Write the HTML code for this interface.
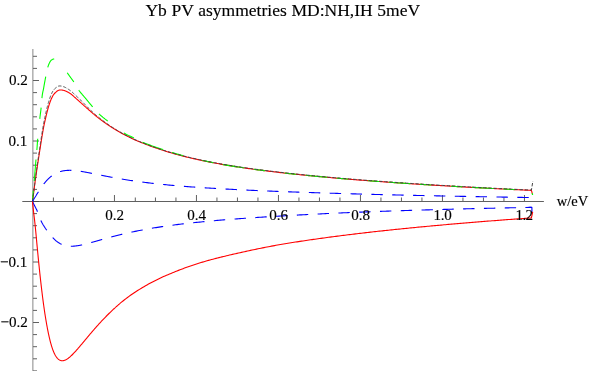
<!DOCTYPE html>
<html><head><meta charset="utf-8"><title>plot</title>
<style>html,body{margin:0;padding:0;background:#fff}body{width:589px;height:371px;overflow:hidden;font-family:"Liberation Serif",serif}</style></head>
<body>
<svg width="589" height="371" viewBox="0 0 589 371" style="display:block;will-change:transform">
<defs><mask id="tm" maskUnits="userSpaceOnUse" x="0" y="0" width="589" height="371"><rect width="589" height="371" fill="#fff"/></mask></defs>
<rect width="589" height="371" fill="#fff"/>
<path d="M32,49 V371" fill="none" stroke="#b4b4b4" stroke-width="1" transform="translate(0.5,0)"/>
<path d="M33,49 V371" fill="none" stroke="#d2d2d2" stroke-width="1" transform="translate(0.5,0)"/>
<path d="M22.3,201.50 H543.9 M53.40,201.50 v-4 M73.45,201.50 v-4 M94.40,201.50 v-4 M114.45,201.50 v-6.5 M135.30,201.50 v-4 M155.45,201.50 v-4 M175.95,201.50 v-4 M196.45,201.50 v-6.5 M216.95,201.50 v-4 M237.45,201.50 v-4 M257.95,201.50 v-4 M278.45,201.50 v-6.5 M298.95,201.50 v-4 M319.45,201.50 v-4 M339.95,201.50 v-4 M360.45,201.50 v-6.5 M380.95,201.50 v-4 M401.45,201.50 v-4 M421.95,201.50 v-4 M442.45,201.50 v-6.5 M462.95,201.50 v-4 M483.45,201.50 v-4 M503.95,201.50 v-4 M524.45,201.50 v-6.5 M33,370.90 h4 M33,358.80 h4 M33,346.70 h4 M33,334.60 h4 M33,322.50 h6 M33,310.40 h4 M33,298.30 h4 M33,286.20 h4 M33,274.10 h4 M33,262.00 h6 M33,249.90 h4 M33,237.80 h4 M33,225.70 h4 M33,213.60 h4 M33,189.40 h4 M33,177.30 h4 M33,165.20 h4 M33,153.10 h4 M33,141.00 h6 M33,128.90 h4 M33,116.80 h4 M33,104.70 h4 M33,92.60 h4 M33,80.50 h6 M33,68.40 h4 M33,56.30 h4" fill="none" stroke="#606060" stroke-width="1"/>
<path d="M33,201.50 h6 M32.95,201.50 v-6" fill="none" stroke="#303030" stroke-opacity="0.5" stroke-width="1"/>
<g fill="none" stroke-linejoin="round">
<path d="M32.45,201.50 L32.55,200.86 L32.65,200.22 L32.75,199.59 L32.85,198.95 L32.95,198.31 L33.05,197.62 L33.15,196.87 L33.25,196.10 L33.35,195.33 L33.45,194.55 L33.55,193.76 L33.65,192.97 L33.75,192.18 L33.85,191.39 L33.95,190.60 L34.05,189.81 L34.15,189.03 L34.25,188.25 L34.35,187.47 L34.45,186.70 L34.55,185.93 L34.65,185.17 L34.75,184.41 L34.85,183.66 L34.95,182.91 L35.05,182.17 L35.15,181.43 L35.25,180.70 L35.35,179.97 L35.45,179.25 L35.55,178.53 L35.65,177.82 L35.75,177.11 L35.85,176.40 L35.95,175.70 L36.05,175.00 L36.15,174.31 L36.25,173.62 L36.35,172.93 L36.45,172.25 L36.55,171.57 L36.65,170.89 L36.75,170.21 L36.85,169.54 L36.95,168.87 L37.05,168.21 L37.15,167.54 L37.25,166.88 L37.35,166.22 L37.45,165.56 L37.55,164.91 L37.65,164.25 L37.75,163.60 L37.85,162.95 L37.95,162.30 L38.05,161.65 L38.15,161.00 L38.25,160.36 L38.35,159.71 L38.45,159.07 L38.55,158.42 L38.65,157.78 L38.75,157.14 L38.85,156.49 L38.95,155.85 L39.05,155.21 L39.15,154.57 L39.25,153.93 L39.35,153.29 L39.45,152.65 L39.55,152.01 L39.65,151.37 L39.75,150.73 L39.85,150.09 L39.95,149.45 L40.05,148.81 L40.15,148.17 L40.25,147.52 L40.35,146.88 L40.45,146.24 L40.55,145.60 L40.65,144.96 L40.75,144.32 L40.85,143.68 L40.95,143.04 L41.05,142.40 L41.15,141.76 L41.25,141.13 L41.35,140.51 L41.45,139.88 L41.55,139.27 L41.65,138.65 L41.75,138.04 L41.85,137.44 L41.95,136.83 L42.05,136.24 L42.15,135.64 L42.25,135.05 L42.35,134.47 L42.45,133.89 L42.55,133.31 L42.65,132.73 L42.75,132.16 L42.85,131.60 L42.95,131.04 L43.05,130.48 L43.15,129.93 L43.25,129.37 L43.35,128.83 L43.45,128.29 L43.55,127.75 L43.65,127.21 L43.75,126.69 L43.85,126.18 L43.95,125.67 L44.05,125.18 L44.15,124.70 L44.25,124.23 L44.35,123.76 L44.45,123.30 L44.55,122.85 L44.65,122.40 L44.75,121.96 L44.85,121.52 L44.95,121.08 L45.05,120.65 L45.15,120.22 L45.25,119.78 L45.35,119.35 L45.45,118.92 L45.55,118.48 L45.65,118.04 L45.75,117.60 L45.85,117.15 L45.95,116.71 L46.05,116.28 L46.15,115.84 L46.25,115.42 L46.35,114.99 L46.45,114.58 L46.55,114.16 L46.65,113.75 L46.75,113.35 L46.85,112.95 L46.95,112.55 L47.05,112.16 L47.15,111.77 L47.25,111.38 L47.35,111.00 L47.45,110.62 L47.55,110.25 L47.65,109.88 L47.75,109.51 L47.85,109.15 L47.95,108.79 L48.05,108.43 L48.15,108.07 L48.25,107.72 L48.35,107.38 L48.45,107.03 L48.55,106.69 L48.65,106.36 L48.75,106.03 L48.85,105.70 L48.95,105.38 L49.05,105.06 L49.15,104.74 L49.25,104.43 L49.35,104.12 L49.45,103.82 L49.55,103.52 L49.65,103.22 L49.75,102.93 L49.85,102.65 L49.95,102.36 L50.00,102.22 L50.25,101.53 L50.50,100.87 L50.75,100.23 L51.00,99.62 L51.25,99.03 L51.50,98.46 L51.75,97.92 L52.00,97.40 L52.25,96.89 L52.50,96.39 L52.75,95.92 L53.00,95.47 L53.25,95.07 L53.50,94.71 L53.75,94.38 L54.00,94.07 L54.25,93.78 L54.50,93.50 L54.75,93.24 L55.00,93.00 L55.25,92.77 L55.50,92.56 L55.75,92.34 L56.00,92.11 L56.25,91.89 L56.50,91.66 L56.75,91.44 L57.00,91.23 L57.25,91.03 L57.50,90.84 L57.75,90.67 L58.00,90.53 L58.25,90.41 L58.50,90.31 L58.75,90.23 L59.00,90.17 L59.25,90.11 L59.50,90.07 L59.75,90.04 L60.00,90.01 L60.25,90.00 L60.50,89.99 L60.75,89.99 L61.00,89.99 L61.25,89.99 L61.50,90.01 L61.75,90.03 L62.00,90.05 L62.25,90.09 L62.50,90.13 L62.75,90.17 L63.00,90.22 L63.25,90.28 L63.50,90.34 L63.75,90.41 L64.00,90.48 L64.25,90.55 L64.50,90.63 L64.75,90.72 L65.00,90.81 L65.25,90.90 L65.50,91.00 L65.75,91.10 L66.00,91.20 L66.25,91.31 L66.50,91.43 L66.75,91.54 L67.00,91.66 L67.25,91.79 L67.50,91.92 L67.75,92.05 L68.00,92.19 L68.25,92.33 L68.50,92.48 L68.75,92.62 L69.00,92.77 L69.25,92.92 L69.50,93.07 L69.75,93.23 L70.00,93.38 L70.25,93.55 L70.50,93.72 L70.75,93.89 L71.00,94.07 L71.25,94.25 L71.50,94.44 L71.75,94.64 L72.00,94.85 L72.25,95.06 L72.50,95.27 L72.75,95.49 L73.00,95.72 L73.25,95.94 L73.50,96.17 L73.75,96.40 L74.00,96.63 L74.25,96.86 L74.50,97.08 L74.75,97.31 L75.00,97.53 L75.25,97.75 L75.50,97.97 L75.75,98.19 L76.00,98.41 L76.25,98.63 L76.50,98.86 L76.75,99.08 L77.00,99.30 L77.25,99.52 L77.50,99.75 L77.75,99.97 L78.00,100.19 L78.25,100.41 L78.50,100.64 L78.75,100.86 L79.00,101.09 L79.25,101.31 L79.50,101.53 L79.75,101.76 L80.00,101.98 L80.25,102.21 L80.50,102.43 L80.75,102.65 L81.00,102.88 L81.25,103.10 L81.50,103.33 L81.75,103.55 L82.00,103.77 L82.25,104.00 L82.50,104.22 L82.75,104.45 L83.00,104.67 L83.25,104.89 L83.50,105.12 L83.75,105.34 L84.00,105.57 L84.25,105.79 L84.50,106.01 L84.75,106.24 L85.00,106.46 L85.25,106.68 L85.50,106.91 L85.75,107.13 L86.00,107.36 L86.25,107.58 L86.50,107.80 L86.75,108.03 L87.00,108.25 L87.25,108.47 L87.50,108.70 L87.75,108.92 L88.00,109.14 L88.25,109.36 L88.50,109.59 L88.75,109.81 L89.00,110.03 L89.25,110.25 L89.50,110.47 L89.75,110.69 L90.00,110.91 L90.25,111.13 L90.50,111.35 L90.75,111.57 L91.00,111.79 L91.25,112.00 L91.50,112.22 L91.75,112.44 L92.00,112.65 L92.25,112.87 L92.50,113.08 L92.75,113.30 L93.00,113.51 L93.25,113.73 L93.50,113.94 L93.75,114.15 L94.00,114.36 L94.25,114.57 L94.50,114.78 L94.75,114.99 L95.00,115.20 L95.25,115.40 L95.50,115.61 L95.75,115.82 L96.00,116.02 L96.25,116.23 L96.50,116.43 L96.75,116.63 L97.00,116.83 L97.25,117.03 L97.50,117.23 L97.75,117.43 L98.00,117.63 L98.25,117.82 L98.50,118.02 L98.75,118.21 L99.00,118.41 L99.25,118.60 L99.50,118.79 L99.75,118.98 L100.00,119.17 L100.25,119.36 L100.50,119.55 L100.75,119.73 L101.00,119.92 L101.25,120.11 L101.50,120.29 L101.75,120.48 L102.00,120.66 L102.25,120.84 L102.50,121.03 L102.75,121.21 L103.00,121.39 L103.25,121.57 L103.50,121.75 L103.75,121.93 L104.00,122.11 L104.25,122.29 L104.50,122.46 L104.75,122.64 L105.00,122.82 L105.25,122.99 L105.50,123.17 L105.75,123.34 L106.00,123.52 L106.25,123.69 L106.50,123.86 L106.75,124.04 L107.00,124.21 L107.25,124.38 L107.50,124.55 L107.75,124.72 L108.00,124.89 L108.25,125.05 L108.50,125.22 L108.75,125.39 L109.00,125.56 L109.25,125.72 L109.50,125.89 L109.75,126.05 L110.00,126.22 L110.25,126.38 L110.50,126.54 L110.75,126.71 L111.00,126.87 L111.25,127.03 L111.50,127.19 L111.75,127.35 L112.00,127.51 L112.25,127.67 L112.50,127.83 L112.75,127.98 L113.00,128.14 L113.25,128.30 L113.50,128.45 L113.75,128.61 L114.00,128.76 L114.25,128.92 L114.50,129.07 L114.75,129.22 L115.00,129.38 L115.25,129.53 L115.50,129.68 L115.75,129.83 L116.00,129.98 L116.25,130.13 L116.50,130.28 L116.75,130.43 L117.00,130.58 L117.25,130.73 L117.50,130.87 L117.75,131.02 L118.00,131.16 L118.25,131.31 L118.50,131.46 L118.75,131.60 L119.00,131.74 L119.25,131.89 L119.50,132.03 L119.75,132.17 L120.00,132.31 L121.50,133.15 L123.00,133.98 L124.50,134.78 L126.00,135.57 L127.50,136.34 L129.00,137.09 L130.50,137.83 L132.00,138.54 L133.50,139.23 L135.00,139.90 L136.50,140.55 L138.00,141.19 L139.50,141.80 L141.00,142.41 L142.50,143.00 L144.00,143.59 L145.50,144.16 L147.00,144.73 L148.50,145.30 L150.00,145.86 L151.50,146.42 L153.00,146.97 L154.50,147.51 L156.00,148.03 L157.50,148.55 L159.00,149.06 L160.50,149.56 L162.00,150.05 L163.50,150.53 L165.00,151.00 L166.50,151.47 L168.00,151.93 L169.50,152.38 L171.00,152.82 L172.50,153.25 L174.00,153.68 L175.50,154.10 L177.00,154.51 L178.50,154.92 L180.00,155.32 L181.50,155.71 L183.00,156.10 L184.50,156.48 L186.00,156.85 L187.50,157.22 L189.00,157.59 L190.50,157.94 L192.00,158.30 L193.50,158.64 L195.00,158.98 L196.50,159.32 L198.00,159.65 L199.50,159.98 L201.00,160.30 L202.50,160.62 L204.00,160.93 L205.50,161.24 L207.00,161.54 L208.50,161.84 L210.00,162.14 L211.50,162.43 L213.00,162.72 L214.50,163.00 L216.00,163.28 L217.50,163.56 L219.00,163.83 L220.50,164.10 L222.00,164.37 L223.50,164.63 L225.00,164.89 L226.50,165.14 L228.00,165.39 L229.50,165.64 L231.00,165.89 L232.50,166.13 L234.00,166.37 L235.50,166.60 L237.00,166.84 L238.50,167.07 L240.00,167.29 L241.50,167.52 L243.00,167.74 L244.50,167.96 L246.00,168.18 L247.50,168.39 L249.00,168.61 L250.50,168.82 L252.00,169.02 L253.50,169.23 L255.00,169.43 L256.50,169.63 L258.00,169.83 L259.50,170.03 L261.00,170.23 L262.50,170.42 L264.00,170.61 L265.50,170.80 L267.00,170.99 L268.50,171.17 L270.00,171.36 L271.50,171.54 L273.00,171.72 L274.50,171.90 L276.00,172.07 L277.50,172.25 L279.00,172.42 L280.50,172.60 L282.00,172.77 L283.50,172.94 L285.00,173.10 L286.50,173.27 L288.00,173.44 L289.50,173.60 L291.00,173.76 L292.50,173.92 L294.00,174.08 L295.50,174.24 L297.00,174.40 L298.50,174.55 L300.00,174.71 L301.50,174.86 L303.00,175.01 L304.50,175.17 L306.00,175.32 L307.50,175.46 L309.00,175.61 L310.50,175.76 L312.00,175.90 L313.50,176.05 L315.00,176.19 L316.50,176.33 L318.00,176.48 L319.50,176.62 L321.00,176.76 L322.50,176.89 L324.00,177.03 L325.50,177.17 L327.00,177.30 L328.50,177.44 L330.00,177.57 L331.50,177.71 L333.00,177.84 L334.50,177.97 L336.00,178.10 L337.50,178.23 L339.00,178.36 L340.50,178.49 L342.00,178.61 L343.50,178.74 L345.00,178.87 L346.50,178.99 L348.00,179.11 L349.50,179.24 L351.00,179.36 L352.50,179.48 L354.00,179.60 L355.50,179.72 L357.00,179.84 L358.50,179.96 L360.00,180.08 L361.50,180.20 L363.00,180.32 L364.50,180.43 L366.00,180.55 L367.50,180.66 L369.00,180.78 L370.50,180.89 L372.00,181.00 L373.50,181.12 L375.00,181.23 L376.50,181.34 L378.00,181.45 L379.50,181.56 L381.00,181.67 L382.50,181.78 L384.00,181.89 L385.50,181.99 L387.00,182.10 L388.50,182.21 L390.00,182.31 L391.50,182.42 L393.00,182.52 L394.50,182.63 L396.00,182.73 L397.50,182.84 L399.00,182.94 L400.50,183.04 L402.00,183.14 L403.50,183.24 L405.00,183.35 L406.50,183.45 L408.00,183.55 L409.50,183.65 L411.00,183.74 L412.50,183.84 L414.00,183.94 L415.50,184.04 L417.00,184.13 L418.50,184.23 L420.00,184.33 L421.50,184.42 L423.00,184.52 L424.50,184.61 L426.00,184.71 L427.50,184.80 L429.00,184.89 L430.50,184.99 L432.00,185.08 L433.50,185.17 L435.00,185.26 L436.50,185.35 L438.00,185.44 L439.50,185.53 L441.00,185.62 L442.50,185.71 L444.00,185.80 L445.50,185.89 L447.00,185.98 L448.50,186.07 L450.00,186.16 L451.50,186.24 L453.00,186.33 L454.50,186.42 L456.00,186.50 L457.50,186.59 L459.00,186.67 L460.50,186.76 L462.00,186.84 L463.50,186.93 L465.00,187.01 L466.50,187.09 L468.00,187.18 L469.50,187.26 L471.00,187.34 L472.50,187.42 L474.00,187.50 L475.50,187.59 L477.00,187.67 L478.50,187.75 L480.00,187.83 L481.50,187.91 L483.00,187.99 L484.50,188.07 L486.00,188.15 L487.50,188.22 L489.00,188.30 L490.50,188.38 L492.00,188.46 L493.50,188.54 L495.00,188.61 L496.50,188.69 L498.00,188.77 L499.50,188.84 L501.00,188.92 L502.50,188.99 L504.00,189.07 L505.50,189.14 L507.00,189.22 L508.50,189.29 L510.00,189.36 L511.50,189.44 L513.00,189.51 L514.50,189.58 L516.00,189.66 L517.50,189.73 L519.00,189.80 L520.50,189.87 L522.00,189.95 L523.50,190.02 L525.00,190.09 L526.50,190.16 L528.00,190.23 L529.50,190.30 L531.00,190.37 L531.40,190.39 L532.40,193.80" stroke="#ff0000" stroke-width="1.1"/>
<path d="M32.45,201.50 L32.55,200.34 L32.65,199.18 L32.75,198.02 L32.85,196.87 L32.95,195.71 L33.05,194.46 L33.15,193.09 L33.25,191.70 L33.35,190.31 L33.45,188.99 L33.55,187.77 L33.65,186.66 L33.75,185.64 L33.85,184.70 L33.95,183.81 L34.05,182.93 L34.15,182.00 L34.25,180.98 L34.35,179.80 L34.45,178.59 L34.55,177.36 L34.65,176.13 L34.75,174.88 L34.85,173.63 L34.95,172.37 L35.05,171.10 L35.15,169.83 L35.25,168.55 L35.35,167.29 L35.45,166.02 L35.55,164.77 L35.65,163.53 L35.75,162.32 L35.85,161.13 L35.95,159.97 L36.05,158.84 L36.15,157.73 L36.25,156.62 L36.35,155.53 L36.45,154.44 L36.55,153.36 L36.65,152.29 L36.75,151.21 L36.85,150.14 L36.95,149.04 L37.05,147.76 L37.15,146.34 L37.25,144.85 L37.35,143.34 L37.45,141.89 L37.55,140.58 L37.65,139.46 L37.75,138.38 L37.85,137.32 L37.95,136.27 L38.05,135.23 L38.15,134.20 L38.25,133.19 L38.35,132.19 L38.45,131.20 L38.55,130.22 L38.65,129.25 L38.75,128.29 L38.85,127.33 L38.95,126.39 L39.05,125.46 L39.15,124.53 L39.25,123.60 L39.35,122.69 L39.45,121.77 L39.55,120.86 L39.65,119.96 L39.75,119.05 L39.85,118.15 L39.95,117.30 L40.05,116.48 L40.15,115.69 L40.25,114.93 L40.35,114.18 L40.45,113.43 L40.55,112.68 L40.65,111.91 L40.75,111.12 L40.85,110.30 L40.95,109.42 L41.05,108.49 L41.15,107.49 L41.25,106.39 L41.35,105.21 L41.45,103.98 L41.55,102.72 L41.65,101.47 L41.75,100.24 L41.85,99.07 L41.95,98.00 L42.05,97.03 L42.15,96.16 L42.25,95.37 L42.35,94.65 L42.45,93.99 L42.55,93.39 L42.65,92.85 L42.75,92.34 L42.85,91.86 L42.95,91.41 L43.05,90.97 L43.15,90.54 L43.25,90.10 L43.35,89.65 L43.45,89.17 L43.55,88.66 L43.65,88.10 L43.75,87.50 L43.85,86.90 L43.95,86.31 L44.05,85.73 L44.15,85.16 L44.25,84.60 L44.35,84.04 L44.45,83.48 L44.55,82.93 L44.65,82.39 L44.75,81.85 L44.85,81.31 L44.95,80.78 L45.05,80.26 L45.15,79.73 L45.25,79.21 L45.35,78.69 L45.45,78.17 L45.55,77.66 L45.65,77.14 L45.75,76.62 L45.85,76.09 L45.95,75.57 L46.05,75.05 L46.15,74.54 L46.25,74.04 L46.35,73.54 L46.45,73.05 L46.55,72.57 L46.65,72.09 L46.75,71.63 L46.85,71.17 L46.95,70.72 L47.05,70.28 L47.15,69.85 L47.25,69.43 L47.35,69.02 L47.45,68.62 L47.55,68.23 L47.65,67.85 L47.75,67.48 L47.85,67.12 L47.95,66.78 L48.05,66.46 L48.15,66.15 L48.25,65.85 L48.35,65.57 L48.45,65.30 L48.55,65.03 L48.65,64.78 L48.75,64.53 L48.85,64.29 L48.95,64.05 L49.05,63.82 L49.15,63.58 L49.25,63.36 L49.35,63.14 L49.45,62.92 L49.55,62.72 L49.65,62.52 L49.75,62.32 L49.85,62.13 L49.95,61.95 L50.00,61.86 L50.25,61.45 L50.50,61.07 L50.75,60.74 L51.00,60.45 L51.25,60.22 L51.50,60.02 L51.75,59.85 L52.00,59.70 L52.25,59.53 L52.50,59.37 L52.75,59.24 L53.00,59.14 L53.25,59.08 L53.50,59.07 L53.75,59.07 L54.00,59.07 L54.25,59.04 L54.50,59.00 L54.75,58.95 L55.00,58.90 L55.25,58.88 L55.50,58.90 L55.75,58.94 L56.00,58.97 L56.25,59.02 L56.50,59.07 L56.75,59.13 L57.00,59.20 L57.25,59.29 L57.50,59.40 L57.75,59.53 L58.00,59.69 L58.25,59.88 L58.50,60.11 L58.75,60.36 L59.00,60.62 L59.25,60.90 L59.50,61.19 L59.75,61.49 L60.00,61.80 L60.25,62.12 L60.50,62.45 L60.75,62.78 L61.00,63.12 L61.25,63.46 L61.50,63.81 L61.75,64.17 L62.00,64.53 L62.25,64.89 L62.50,65.26 L62.75,65.63 L63.00,66.00 L63.25,66.38 L63.50,66.76 L63.75,67.15 L64.00,67.55 L64.25,67.94 L64.50,68.35 L64.75,68.75 L65.00,69.16 L65.25,69.56 L65.50,69.97 L65.75,70.37 L66.00,70.78 L66.25,71.17 L66.50,71.57 L66.75,71.96 L67.00,72.35 L67.25,72.73 L67.50,73.10 L67.75,73.47 L68.00,73.84 L68.25,74.20 L68.50,74.57 L68.75,74.93 L69.00,75.28 L69.25,75.63 L69.50,75.98 L69.75,76.33 L70.00,76.67 L70.25,77.01 L70.50,77.35 L70.75,77.70 L71.00,78.04 L71.25,78.37 L71.50,78.71 L71.75,79.05 L72.00,79.39 L72.25,79.73 L72.50,80.08 L72.75,80.43 L73.00,80.78 L73.25,81.14 L73.50,81.50 L73.75,81.87 L74.00,82.24 L74.25,82.62 L74.50,83.01 L74.75,83.41 L75.00,83.81 L75.25,84.23 L75.50,84.65 L75.75,85.07 L76.00,85.50 L76.25,85.94 L76.50,86.37 L76.75,86.81 L77.00,87.24 L77.25,87.67 L77.50,88.09 L77.75,88.51 L78.00,88.92 L78.25,89.32 L78.50,89.71 L78.75,90.09 L79.00,90.45 L79.25,90.80 L79.50,91.13 L79.75,91.46 L80.00,91.78 L80.25,92.10 L80.50,92.41 L80.75,92.72 L81.00,93.03 L81.25,93.33 L81.50,93.63 L81.75,93.93 L82.00,94.22 L82.25,94.52 L82.50,94.81 L82.75,95.10 L83.00,95.39 L83.25,95.68 L83.50,95.97 L83.75,96.26 L84.00,96.55 L84.25,96.84 L84.50,97.13 L84.75,97.42 L85.00,97.71 L85.25,98.01 L85.50,98.30 L85.75,98.60 L86.00,98.90 L86.25,99.20 L86.50,99.50 L86.75,99.81 L87.00,100.11 L87.25,100.41 L87.50,100.72 L87.75,101.02 L88.00,101.33 L88.25,101.63 L88.50,101.93 L88.75,102.24 L89.00,102.54 L89.25,102.84 L89.50,103.15 L89.75,103.45 L90.00,103.75 L90.25,104.05 L90.50,104.35 L90.75,104.65 L91.00,104.95 L91.25,105.25 L91.50,105.55 L91.75,105.84 L92.00,106.14 L92.25,106.43 L92.50,106.72 L92.75,107.01 L93.00,107.30 L93.25,107.59 L93.50,107.88 L93.75,108.17 L94.00,108.46 L94.25,108.75 L94.50,109.05 L94.75,109.34 L95.00,109.63 L95.25,109.92 L95.50,110.21 L95.75,110.50 L96.00,110.78 L96.25,111.06 L96.50,111.34 L96.75,111.62 L97.00,111.90 L97.25,112.17 L97.50,112.44 L97.75,112.70 L98.00,112.96 L98.25,113.21 L98.50,113.46 L98.75,113.71 L99.00,113.95 L99.25,114.18 L99.50,114.41 L99.75,114.63 L100.00,114.85 L100.25,115.07 L100.50,115.29 L100.75,115.50 L101.00,115.71 L101.25,115.92 L101.50,116.13 L101.75,116.34 L102.00,116.55 L102.25,116.75 L102.50,116.95 L102.75,117.16 L103.00,117.36 L103.25,117.56 L103.50,117.76 L103.75,117.95 L104.00,118.15 L104.25,118.35 L104.50,118.54 L104.75,118.74 L105.00,118.93 L105.25,119.13 L105.50,119.32 L105.75,119.51 L106.00,119.71 L106.25,119.90 L106.50,120.09 L106.75,120.28 L107.00,120.48 L107.25,120.67 L107.50,120.86 L107.75,121.05 L108.00,121.25 L108.25,121.44 L108.50,121.63 L108.75,121.83 L109.00,122.02 L109.25,122.22 L109.50,122.41 L109.75,122.61 L110.00,122.81 L110.25,123.01 L110.50,123.21 L110.75,123.40 L111.00,123.60 L111.25,123.80 L111.50,124.00 L111.75,124.20 L112.00,124.40 L112.25,124.60 L112.50,124.80 L112.75,125.00 L113.00,125.20 L113.25,125.40 L113.50,125.60 L113.75,125.80 L114.00,126.00 L114.25,126.20 L114.50,126.40 L114.75,126.59 L115.00,126.79 L115.25,126.99 L115.50,127.18 L115.75,127.38 L116.00,127.57 L116.25,127.76 L116.50,127.95 L116.75,128.14 L117.00,128.33 L117.25,128.52 L117.50,128.71 L117.75,128.90 L118.00,129.08 L118.25,129.27 L118.50,129.45 L118.75,129.63 L119.00,129.81 L119.25,129.99 L119.50,130.17 L119.75,130.34 L120.00,130.52 L121.50,131.53 L123.00,132.47 L124.50,133.34 L126.00,134.13 L127.50,134.90 L129.00,135.63 L130.50,136.35 L132.00,137.05 L133.50,137.73 L135.00,138.43 L136.50,139.19 L138.00,140.00 L139.50,140.80 L141.00,141.56 L142.50,142.24 L144.00,142.83 L145.50,143.41 L147.00,143.99 L148.50,144.55 L150.00,145.12 L151.50,145.68 L153.00,146.22 L154.50,146.76 L156.00,147.29 L157.50,147.81 L159.00,148.33 L160.50,148.83 L162.00,149.33 L163.50,149.82 L165.00,150.31 L166.50,150.79 L168.00,151.27 L169.50,151.73 L171.00,152.19 L172.50,152.65 L174.00,153.09 L175.50,153.53 L177.00,153.97 L178.50,154.39 L180.00,154.81 L181.50,155.22 L183.00,155.63 L184.50,156.03 L186.00,156.43 L187.50,156.83 L189.00,157.22 L190.50,157.60 L192.00,157.98 L193.50,158.35 L195.00,158.72 L196.50,159.07 L198.00,159.42 L199.50,159.77 L201.00,160.10 L202.50,160.44 L204.00,160.76 L205.50,161.08 L207.00,161.40 L208.50,161.71 L210.00,162.02 L211.50,162.33 L213.00,162.63 L214.50,162.92 L216.00,163.21 L217.50,163.50 L219.00,163.78 L220.50,164.06 L222.00,164.33 L223.50,164.60 L225.00,164.86 L226.50,165.12 L228.00,165.38 L229.50,165.63 L231.00,165.88 L232.50,166.13 L234.00,166.37 L235.50,166.60 L237.00,166.84 L238.50,167.07 L240.00,167.29 L241.50,167.52 L243.00,167.74 L244.50,167.96 L246.00,168.18 L247.50,168.39 L249.00,168.61 L250.50,168.82 L252.00,169.02 L253.50,169.23 L255.00,169.43 L256.50,169.63 L258.00,169.83 L259.50,170.03 L261.00,170.23 L262.50,170.42 L264.00,170.61 L265.50,170.80 L267.00,170.99 L268.50,171.17 L270.00,171.36 L271.50,171.54 L273.00,171.72 L274.50,171.90 L276.00,172.07 L277.50,172.25 L279.00,172.42 L280.50,172.60 L282.00,172.77 L283.50,172.94 L285.00,173.10 L286.50,173.27 L288.00,173.44 L289.50,173.60 L291.00,173.76 L292.50,173.92 L294.00,174.08 L295.50,174.24 L297.00,174.40 L298.50,174.55 L300.00,174.71 L301.50,174.86 L303.00,175.01 L304.50,175.17 L306.00,175.32 L307.50,175.46 L309.00,175.61 L310.50,175.76 L312.00,175.90 L313.50,176.05 L315.00,176.19 L316.50,176.33 L318.00,176.48 L319.50,176.62 L321.00,176.76 L322.50,176.89 L324.00,177.03 L325.50,177.17 L327.00,177.30 L328.50,177.44 L330.00,177.57 L331.50,177.71 L333.00,177.84 L334.50,177.97 L336.00,178.10 L337.50,178.23 L339.00,178.36 L340.50,178.49 L342.00,178.61 L343.50,178.74 L345.00,178.87 L346.50,178.99 L348.00,179.11 L349.50,179.24 L351.00,179.36 L352.50,179.48 L354.00,179.60 L355.50,179.72 L357.00,179.84 L358.50,179.96 L360.00,180.08 L361.50,180.20 L363.00,180.32 L364.50,180.43 L366.00,180.55 L367.50,180.66 L369.00,180.78 L370.50,180.89 L372.00,181.00 L373.50,181.12 L375.00,181.23 L376.50,181.34 L378.00,181.45 L379.50,181.56 L381.00,181.67 L382.50,181.78 L384.00,181.89 L385.50,181.99 L387.00,182.10 L388.50,182.21 L390.00,182.31 L391.50,182.42 L393.00,182.52 L394.50,182.63 L396.00,182.73 L397.50,182.84 L399.00,182.94 L400.50,183.04 L402.00,183.14 L403.50,183.24 L405.00,183.35 L406.50,183.45 L408.00,183.55 L409.50,183.65 L411.00,183.74 L412.50,183.84 L414.00,183.94 L415.50,184.04 L417.00,184.13 L418.50,184.23 L420.00,184.33 L421.50,184.42 L423.00,184.52 L424.50,184.61 L426.00,184.71 L427.50,184.80 L429.00,184.89 L430.50,184.99 L432.00,185.08 L433.50,185.17 L435.00,185.26 L436.50,185.35 L438.00,185.44 L439.50,185.53 L441.00,185.62 L442.50,185.71 L444.00,185.80 L445.50,185.89 L447.00,185.98 L448.50,186.07 L450.00,186.16 L451.50,186.24 L453.00,186.33 L454.50,186.42 L456.00,186.50 L457.50,186.59 L459.00,186.67 L460.50,186.76 L462.00,186.84 L463.50,186.93 L465.00,187.01 L466.50,187.09 L468.00,187.18 L469.50,187.26 L471.00,187.34 L472.50,187.42 L474.00,187.50 L475.50,187.59 L477.00,187.67 L478.50,187.75 L480.00,187.83 L481.50,187.91 L483.00,187.99 L484.50,188.07 L486.00,188.15 L487.50,188.22 L489.00,188.30 L490.50,188.38 L492.00,188.46 L493.50,188.54 L495.00,188.61 L496.50,188.69 L498.00,188.77 L499.50,188.84 L501.00,188.92 L502.50,188.99 L504.00,189.07 L505.50,189.14 L507.00,189.22 L508.50,189.29 L510.00,189.36 L511.50,189.44 L513.00,189.51 L514.50,189.58 L516.00,189.66 L517.50,189.73 L519.00,189.80 L520.50,189.87 L522.00,189.95 L523.50,190.02 L525.00,190.09 L526.50,190.16 L528.00,190.23 L529.50,190.30 L531.00,190.37 L531.40,190.39 L532.40,194.40" stroke="#00ff00" stroke-width="1.1" stroke-dasharray="21.76 9.53 11.33 19.96 11.33 9.53" stroke-dashoffset="63.03"/>
<path d="M32.45,201.50 L32.55,200.83 L32.65,200.16 L32.75,199.49 L32.85,198.82 L32.95,198.15 L33.05,197.43 L33.15,196.64 L33.25,195.84 L33.35,195.02 L33.45,194.20 L33.55,193.37 L33.65,192.54 L33.75,191.71 L33.85,190.88 L33.95,190.06 L34.05,189.23 L34.15,188.41 L34.25,187.59 L34.35,186.77 L34.45,185.96 L34.55,185.16 L34.65,184.36 L34.75,183.56 L34.85,182.77 L34.95,181.99 L35.05,181.21 L35.15,180.43 L35.25,179.66 L35.35,178.90 L35.45,178.14 L35.55,177.38 L35.65,176.63 L35.75,175.89 L35.85,175.15 L35.95,174.41 L36.05,173.68 L36.15,172.95 L36.25,172.22 L36.35,171.50 L36.45,170.79 L36.55,170.07 L36.65,169.36 L36.75,168.65 L36.85,167.95 L36.95,167.25 L37.05,166.55 L37.15,165.85 L37.25,165.16 L37.35,164.46 L37.45,163.77 L37.55,163.08 L37.65,162.40 L37.75,161.71 L37.85,161.03 L37.95,160.35 L38.05,159.67 L38.15,158.99 L38.25,158.31 L38.35,157.63 L38.45,156.95 L38.55,156.28 L38.65,155.60 L38.75,154.93 L38.85,154.26 L38.95,153.58 L39.05,152.91 L39.15,152.24 L39.25,151.57 L39.35,150.89 L39.45,150.22 L39.55,149.55 L39.65,148.88 L39.75,148.21 L39.85,147.54 L39.95,146.86 L40.05,146.19 L40.15,145.52 L40.25,144.85 L40.35,144.18 L40.45,143.50 L40.55,142.83 L40.65,142.16 L40.75,141.49 L40.85,140.81 L40.95,140.14 L41.05,139.47 L41.15,138.81 L41.25,138.15 L41.35,137.49 L41.45,136.84 L41.55,136.19 L41.65,135.55 L41.75,134.91 L41.85,134.27 L41.95,133.64 L42.05,133.01 L42.15,132.39 L42.25,131.77 L42.35,131.16 L42.45,130.55 L42.55,129.94 L42.65,129.34 L42.75,128.75 L42.85,128.15 L42.95,127.57 L43.05,126.98 L43.15,126.40 L43.25,125.82 L43.35,125.25 L43.45,124.68 L43.55,124.12 L43.65,123.56 L43.75,123.01 L43.85,122.47 L43.95,121.95 L44.05,121.43 L44.15,120.93 L44.25,120.43 L44.35,119.95 L44.45,119.47 L44.55,118.99 L44.65,118.52 L44.75,118.06 L44.85,117.60 L44.95,117.14 L45.05,116.69 L45.15,116.23 L45.25,115.78 L45.35,115.33 L45.45,114.88 L45.55,114.42 L45.65,113.96 L45.75,113.50 L45.85,113.04 L45.95,112.58 L46.05,112.12 L46.15,111.67 L46.25,111.23 L46.35,110.79 L46.45,110.35 L46.55,109.92 L46.65,109.49 L46.75,109.07 L46.85,108.66 L46.95,108.25 L47.05,107.84 L47.15,107.44 L47.25,107.04 L47.35,106.64 L47.45,106.25 L47.55,105.86 L47.65,105.48 L47.75,105.10 L47.85,104.72 L47.95,104.35 L48.05,103.98 L48.15,103.62 L48.25,103.25 L48.35,102.90 L48.45,102.54 L48.55,102.20 L48.65,101.85 L48.75,101.51 L48.85,101.18 L48.95,100.85 L49.05,100.52 L49.15,100.20 L49.25,99.88 L49.35,99.56 L49.45,99.25 L49.55,98.95 L49.65,98.64 L49.75,98.35 L49.85,98.05 L49.95,97.77 L50.00,97.62 L50.25,96.92 L50.50,96.25 L50.75,95.61 L51.00,94.99 L51.25,94.40 L51.50,93.83 L51.75,93.29 L52.00,92.77 L52.25,92.27 L52.50,91.77 L52.75,91.30 L53.00,90.87 L53.25,90.47 L53.50,90.13 L53.75,89.81 L54.00,89.52 L54.25,89.24 L54.50,88.98 L54.75,88.74 L55.00,88.51 L55.25,88.30 L55.50,88.11 L55.75,87.91 L56.00,87.71 L56.25,87.50 L56.50,87.30 L56.75,87.09 L57.00,86.90 L57.25,86.72 L57.50,86.55 L57.75,86.41 L58.00,86.28 L58.25,86.18 L58.50,86.11 L58.75,86.05 L59.00,86.01 L59.25,85.98 L59.50,85.96 L59.75,85.95 L60.00,85.95 L60.25,85.95 L60.50,85.97 L60.75,85.99 L61.00,86.02 L61.25,86.05 L61.50,86.09 L61.75,86.14 L62.00,86.20 L62.25,86.26 L62.50,86.32 L62.75,86.40 L63.00,86.48 L63.25,86.56 L63.50,86.65 L63.75,86.75 L64.00,86.85 L64.25,86.95 L64.50,87.06 L64.75,87.18 L65.00,87.29 L65.25,87.41 L65.50,87.54 L65.75,87.67 L66.00,87.80 L66.25,87.94 L66.50,88.08 L66.75,88.22 L67.00,88.37 L67.25,88.52 L67.50,88.68 L67.75,88.83 L68.00,89.00 L68.25,89.16 L68.50,89.33 L68.75,89.50 L69.00,89.66 L69.25,89.83 L69.50,90.01 L69.75,90.18 L70.00,90.36 L70.25,90.54 L70.50,90.72 L70.75,90.91 L71.00,91.11 L71.25,91.31 L71.50,91.51 L71.75,91.73 L72.00,91.95 L72.25,92.17 L72.50,92.40 L72.75,92.64 L73.00,92.87 L73.25,93.11 L73.50,93.35 L73.75,93.59 L74.00,93.84 L74.25,94.08 L74.50,94.32 L74.75,94.55 L75.00,94.79 L75.25,95.02 L75.50,95.25 L75.75,95.48 L76.00,95.72 L76.25,95.95 L76.50,96.18 L76.75,96.42 L77.00,96.65 L77.25,96.89 L77.50,97.12 L77.75,97.36 L78.00,97.60 L78.25,97.83 L78.50,98.07 L78.75,98.31 L79.00,98.54 L79.25,98.78 L79.50,99.02 L79.75,99.26 L80.00,99.50 L80.25,99.74 L80.50,99.98 L80.75,100.22 L81.00,100.46 L81.25,100.70 L81.50,100.94 L81.75,101.19 L82.00,101.43 L82.25,101.67 L82.50,101.92 L82.75,102.18 L83.00,102.43 L83.25,102.69 L83.50,102.95 L83.75,103.21 L84.00,103.47 L84.25,103.74 L84.50,104.00 L84.75,104.27 L85.00,104.54 L85.25,104.80 L85.50,105.07 L85.75,105.34 L86.00,105.60 L86.25,105.87 L86.50,106.13 L86.75,106.39 L87.00,106.65 L87.25,106.91 L87.50,107.16 L87.75,107.41 L88.00,107.66 L88.25,107.91 L88.50,108.16 L88.75,108.40 L89.00,108.64 L89.25,108.89 L89.50,109.13 L89.75,109.37 L90.00,109.61 L90.25,109.85 L90.50,110.09 L90.75,110.33 L91.00,110.57 L91.25,110.81 L91.50,111.04 L91.75,111.27 L92.00,111.51 L92.25,111.74 L92.50,111.97 L92.75,112.20 L93.00,112.43 L93.25,112.66 L93.50,112.88 L93.75,113.11 L94.00,113.33 L94.25,113.55 L94.50,113.78 L94.75,114.00 L95.00,114.22 L95.25,114.44 L95.50,114.65 L95.75,114.87 L96.00,115.08 L96.25,115.30 L96.50,115.51 L96.75,115.72 L97.00,115.93 L97.25,116.14 L97.50,116.35 L97.75,116.56 L98.00,116.76 L98.25,116.97 L98.50,117.17 L98.75,117.37 L99.00,117.58 L99.25,117.78 L99.50,117.98 L99.75,118.17 L100.00,118.37 L100.25,118.57 L100.50,118.76 L100.75,118.96 L101.00,119.15 L101.25,119.34 L101.50,119.54 L101.75,119.73 L102.00,119.92 L102.25,120.11 L102.50,120.30 L102.75,120.49 L103.00,120.67 L103.25,120.86 L103.50,121.05 L103.75,121.24 L104.00,121.42 L104.25,121.61 L104.50,121.79 L104.75,121.97 L105.00,122.16 L105.25,122.34 L105.50,122.52 L105.75,122.70 L106.00,122.88 L106.25,123.06 L106.50,123.24 L106.75,123.42 L107.00,123.60 L107.25,123.77 L107.50,123.95 L107.75,124.13 L108.00,124.30 L108.25,124.48 L108.50,124.65 L108.75,124.82 L109.00,125.00 L109.25,125.17 L109.50,125.34 L109.75,125.51 L110.00,125.68 L110.25,125.85 L110.50,126.02 L110.75,126.19 L111.00,126.36 L111.25,126.53 L111.50,126.69 L111.75,126.86 L112.00,127.03 L112.25,127.19 L112.50,127.35 L112.75,127.52 L113.00,127.68 L113.25,127.84 L113.50,128.00 L113.75,128.16 L114.00,128.32 L114.25,128.48 L114.50,128.64 L114.75,128.80 L115.00,128.95 L115.25,129.11 L115.50,129.27 L115.75,129.42 L116.00,129.58 L116.25,129.73 L116.50,129.88 L116.75,130.03 L117.00,130.19 L117.25,130.34 L117.50,130.49 L117.75,130.64 L118.00,130.79 L118.25,130.93 L118.50,131.08 L118.75,131.23 L119.00,131.37 L119.25,131.52 L119.50,131.67 L119.75,131.81 L120.00,131.95 L121.50,132.80 L123.00,133.63 L124.50,134.45 L126.00,135.24 L127.50,136.02 L129.00,136.78 L130.50,137.52 L132.00,138.24 L133.50,138.94 L135.00,139.62 L136.50,140.27 L138.00,140.91 L139.50,141.53 L141.00,142.14 L142.50,142.73 L144.00,143.32 L145.50,143.89 L147.00,144.46 L148.50,145.03 L150.00,145.59 L151.50,146.15 L153.00,146.69 L154.50,147.23 L156.00,147.75 L157.50,148.27 L159.00,148.78 L160.50,149.28 L162.00,149.76 L163.50,150.25 L165.00,150.72 L166.50,151.18 L168.00,151.64 L169.50,152.09 L171.00,152.53 L172.50,152.96 L174.00,153.39 L175.50,153.80 L177.00,154.22 L178.50,154.62 L180.00,155.02 L181.50,155.41 L183.00,155.80 L184.50,156.18 L186.00,156.56 L187.50,156.92 L189.00,157.29 L190.50,157.64 L192.00,158.00 L193.50,158.34 L195.00,158.68 L196.50,159.02 L198.00,159.35 L199.50,159.68 L201.00,160.00 L202.50,160.32 L204.00,160.63 L205.50,160.94 L207.00,161.24 L208.50,161.54 L210.00,161.84 L211.50,162.13 L213.00,162.42 L214.50,162.70 L216.00,162.98 L217.50,163.26 L219.00,163.53 L220.50,163.80 L222.00,164.07 L223.50,164.33 L225.00,164.59 L226.50,164.84 L228.00,165.09 L229.50,165.34 L231.00,165.59 L232.50,165.83 L234.00,166.07 L235.50,166.30 L237.00,166.54 L238.50,166.77 L240.00,166.99 L241.50,167.22 L243.00,167.44 L244.50,167.66 L246.00,167.88 L247.50,168.09 L249.00,168.31 L250.50,168.52 L252.00,168.72 L253.50,168.93 L255.00,169.13 L256.50,169.33 L258.00,169.53 L259.50,169.73 L261.00,169.93 L262.50,170.12 L264.00,170.31 L265.50,170.50 L267.00,170.69 L268.50,170.87 L270.00,171.06 L271.50,171.24 L273.00,171.42 L274.50,171.60 L276.00,171.77 L277.50,171.95 L279.00,172.12 L280.50,172.30 L282.00,172.47 L283.50,172.64 L285.00,172.80 L286.50,172.97 L288.00,173.14 L289.50,173.30 L291.00,173.46 L292.50,173.62 L294.00,173.78 L295.50,173.94 L297.00,174.10 L298.50,174.25 L300.00,174.41 L301.50,174.56 L303.00,174.71 L304.50,174.87 L306.00,175.02 L307.50,175.16 L309.00,175.31 L310.50,175.46 L312.00,175.60 L313.50,175.75 L315.00,175.89 L316.50,176.03 L318.00,176.18 L319.50,176.32 L321.00,176.46 L322.50,176.59 L324.00,176.73 L325.50,176.87 L327.00,177.00 L328.50,177.14 L330.00,177.27 L331.50,177.41 L333.00,177.54 L334.50,177.67 L336.00,177.80 L337.50,177.93 L339.00,178.06 L340.50,178.19 L342.00,178.31 L343.50,178.44 L345.00,178.57 L346.50,178.69 L348.00,178.81 L349.50,178.94 L351.00,179.06 L352.50,179.18 L354.00,179.30 L355.50,179.42 L357.00,179.54 L358.50,179.66 L360.00,179.78 L361.50,179.90 L363.00,180.02 L364.50,180.13 L366.00,180.25 L367.50,180.36 L369.00,180.48 L370.50,180.59 L372.00,180.70 L373.50,180.82 L375.00,180.93 L376.50,181.04 L378.00,181.15 L379.50,181.26 L381.00,181.37 L382.50,181.48 L384.00,181.59 L385.50,181.69 L387.00,181.80 L388.50,181.91 L390.00,182.01 L391.50,182.12 L393.00,182.22 L394.50,182.33 L396.00,182.43 L397.50,182.54 L399.00,182.64 L400.50,182.74 L402.00,182.84 L403.50,182.94 L405.00,183.05 L406.50,183.15 L408.00,183.25 L409.50,183.35 L411.00,183.44 L412.50,183.54 L414.00,183.64 L415.50,183.74 L417.00,183.83 L418.50,183.93 L420.00,184.03 L421.50,184.12 L423.00,184.22 L424.50,184.31 L426.00,184.41 L427.50,184.50 L429.00,184.59 L430.50,184.69 L432.00,184.78 L433.50,184.87 L435.00,184.96 L436.50,185.05 L438.00,185.14 L439.50,185.23 L441.00,185.32 L442.50,185.41 L444.00,185.50 L445.50,185.59 L447.00,185.68 L448.50,185.77 L450.00,185.86 L451.50,185.94 L453.00,186.03 L454.50,186.12 L456.00,186.20 L457.50,186.29 L459.00,186.37 L460.50,186.46 L462.00,186.54 L463.50,186.63 L465.00,186.71 L466.50,186.79 L468.00,186.88 L469.50,186.96 L471.00,187.04 L472.50,187.12 L474.00,187.20 L475.50,187.29 L477.00,187.37 L478.50,187.45 L480.00,187.53 L481.50,187.61 L483.00,187.69 L484.50,187.77 L486.00,187.85 L487.50,187.92 L489.00,188.00 L490.50,188.08 L492.00,188.16 L493.50,188.24 L495.00,188.31 L496.50,188.39 L498.00,188.47 L499.50,188.54 L501.00,188.62 L502.50,188.69 L504.00,188.77 L505.50,188.84 L507.00,188.92 L508.50,188.99 L510.00,189.06 L511.50,189.14 L513.00,189.21 L514.50,189.28 L516.00,189.36 L517.50,189.43 L519.00,189.50 L520.50,189.57 L522.00,189.65 L523.50,189.72 L525.00,189.79 L526.50,189.86 L528.00,189.93 L529.50,190.00 L531.00,190.07 L531.40,190.09 L532.90,181.00" stroke="#454545" stroke-width="1.0" stroke-dasharray="3.4 1.81"/>
<path d="M32.45,201.50 L32.55,201.33 L32.65,201.17 L32.75,201.00 L32.85,200.83 L32.95,200.66 L33.05,200.50 L33.15,200.33 L33.25,200.16 L33.35,199.99 L33.45,199.83 L33.55,199.66 L33.65,199.49 L33.75,199.33 L33.85,199.16 L33.95,198.99 L34.05,198.83 L34.15,198.66 L34.25,198.49 L34.35,198.33 L34.45,198.16 L34.55,197.99 L34.65,197.83 L34.75,197.66 L34.85,197.50 L34.95,197.33 L35.05,197.17 L35.15,197.00 L35.25,196.84 L35.35,196.67 L35.45,196.51 L35.55,196.34 L35.65,196.18 L35.75,196.02 L35.85,195.85 L35.95,195.69 L36.05,195.53 L36.15,195.36 L36.25,195.20 L36.35,195.04 L36.45,194.88 L36.55,194.71 L36.65,194.55 L36.75,194.39 L36.85,194.23 L36.95,194.07 L37.05,193.91 L37.15,193.75 L37.25,193.59 L37.35,193.43 L37.45,193.27 L37.55,193.11 L37.65,192.96 L37.75,192.80 L37.85,192.64 L37.95,192.48 L38.05,192.33 L38.15,192.17 L38.25,192.01 L38.35,191.86 L38.45,191.70 L38.55,191.55 L38.65,191.39 L38.75,191.23 L38.85,191.08 L38.95,190.92 L39.05,190.76 L39.15,190.61 L39.25,190.45 L39.35,190.29 L39.45,190.14 L39.55,189.99 L39.65,189.83 L39.75,189.68 L39.85,189.53 L39.95,189.38 L40.05,189.22 L40.15,189.07 L40.25,188.92 L40.35,188.77 L40.45,188.62 L40.55,188.48 L40.65,188.33 L40.75,188.18 L40.85,188.03 L40.95,187.89 L41.05,187.74 L41.15,187.60 L41.25,187.45 L41.35,187.31 L41.45,187.16 L41.55,187.02 L41.65,186.88 L41.75,186.74 L41.85,186.60 L41.95,186.46 L42.05,186.32 L42.15,186.18 L42.25,186.04 L42.35,185.90 L42.45,185.76 L42.55,185.63 L42.65,185.49 L42.75,185.36 L42.85,185.22 L42.95,185.09 L43.05,184.95 L43.15,184.82 L43.25,184.69 L43.35,184.56 L43.45,184.43 L43.55,184.30 L43.65,184.17 L43.75,184.04 L43.85,183.91 L43.95,183.78 L44.05,183.65 L44.15,183.53 L44.25,183.40 L44.35,183.28 L44.45,183.15 L44.55,183.03 L44.65,182.91 L44.75,182.78 L44.85,182.66 L44.95,182.54 L45.05,182.42 L45.15,182.30 L45.25,182.18 L45.35,182.06 L45.45,181.95 L45.55,181.83 L45.65,181.71 L45.75,181.60 L45.85,181.48 L45.95,181.37 L46.05,181.25 L46.15,181.14 L46.25,181.03 L46.35,180.92 L46.45,180.81 L46.55,180.70 L46.65,180.59 L46.75,180.48 L46.85,180.37 L46.95,180.26 L47.05,180.16 L47.15,180.05 L47.25,179.94 L47.35,179.84 L47.45,179.74 L47.55,179.63 L47.65,179.53 L47.75,179.43 L47.85,179.33 L47.95,179.23 L48.05,179.13 L48.15,179.03 L48.25,178.93 L48.35,178.83 L48.45,178.73 L48.55,178.64 L48.65,178.54 L48.75,178.44 L48.85,178.35 L48.95,178.26 L49.05,178.16 L49.15,178.07 L49.25,177.98 L49.35,177.89 L49.45,177.80 L49.55,177.71 L49.65,177.62 L49.75,177.53 L49.85,177.44 L49.95,177.35 L50.00,177.31 L50.25,177.10 L50.50,176.89 L50.75,176.68 L51.00,176.48 L51.25,176.28 L51.50,176.09 L51.75,175.89 L52.00,175.71 L52.25,175.53 L52.50,175.35 L52.75,175.17 L53.00,175.00 L53.25,174.84 L53.50,174.67 L53.75,174.51 L54.00,174.36 L54.25,174.21 L54.50,174.06 L54.75,173.91 L55.00,173.77 L55.25,173.63 L55.50,173.50 L55.75,173.37 L56.00,173.24 L56.25,173.12 L56.50,173.00 L56.75,172.88 L57.00,172.76 L57.25,172.65 L57.50,172.55 L57.75,172.44 L58.00,172.34 L58.25,172.24 L58.50,172.14 L58.75,172.05 L59.00,171.96 L59.25,171.88 L59.50,171.79 L59.75,171.71 L60.00,171.63 L60.25,171.56 L60.50,171.48 L60.75,171.41 L61.00,171.35 L61.25,171.28 L61.50,171.22 L61.75,171.16 L62.00,171.10 L62.25,171.04 L62.50,170.99 L62.75,170.94 L63.00,170.89 L63.25,170.85 L63.50,170.80 L63.75,170.76 L64.00,170.72 L64.25,170.68 L64.50,170.65 L64.75,170.61 L65.00,170.58 L65.25,170.55 L65.50,170.53 L65.75,170.50 L66.00,170.48 L66.25,170.45 L66.50,170.43 L66.75,170.42 L67.00,170.40 L67.25,170.38 L67.50,170.37 L67.75,170.36 L68.00,170.35 L68.25,170.34 L68.50,170.33 L68.75,170.33 L69.00,170.32 L69.25,170.32 L69.50,170.32 L69.75,170.32 L70.00,170.32 L70.25,170.32 L70.50,170.33 L70.75,170.33 L71.00,170.34 L71.25,170.35 L71.50,170.36 L71.75,170.37 L72.00,170.38 L72.25,170.39 L72.50,170.40 L72.75,170.42 L73.00,170.44 L73.25,170.45 L73.50,170.47 L73.75,170.49 L74.00,170.51 L74.25,170.53 L74.50,170.55 L74.75,170.57 L75.00,170.60 L75.25,170.62 L75.50,170.65 L75.75,170.67 L76.00,170.70 L76.25,170.73 L76.50,170.75 L76.75,170.78 L77.00,170.81 L77.25,170.84 L77.50,170.87 L77.75,170.91 L78.00,170.94 L78.25,170.97 L78.50,171.00 L78.75,171.04 L79.00,171.07 L79.25,171.11 L79.50,171.14 L79.75,171.18 L80.00,171.22 L80.25,171.26 L80.50,171.29 L80.75,171.33 L81.00,171.37 L81.25,171.41 L81.50,171.45 L81.75,171.49 L82.00,171.53 L82.25,171.57 L82.50,171.61 L82.75,171.66 L83.00,171.70 L83.25,171.74 L83.50,171.78 L83.75,171.83 L84.00,171.87 L84.25,171.92 L84.50,171.96 L84.75,172.00 L85.00,172.05 L85.25,172.09 L85.50,172.14 L85.75,172.19 L86.00,172.23 L86.25,172.28 L86.50,172.32 L86.75,172.37 L87.00,172.42 L87.25,172.47 L87.50,172.51 L87.75,172.56 L88.00,172.61 L88.25,172.66 L88.50,172.70 L88.75,172.75 L89.00,172.80 L89.25,172.85 L89.50,172.90 L89.75,172.95 L90.00,173.00 L90.25,173.04 L90.50,173.09 L90.75,173.14 L91.00,173.19 L91.25,173.24 L91.50,173.29 L91.75,173.34 L92.00,173.39 L92.25,173.44 L92.50,173.49 L92.75,173.54 L93.00,173.59 L93.25,173.64 L93.50,173.69 L93.75,173.74 L94.00,173.79 L94.25,173.84 L94.50,173.89 L94.75,173.94 L95.00,173.99 L95.25,174.04 L95.50,174.09 L95.75,174.14 L96.00,174.19 L96.25,174.24 L96.50,174.30 L96.75,174.35 L97.00,174.40 L97.25,174.45 L97.50,174.50 L97.75,174.55 L98.00,174.60 L98.25,174.65 L98.50,174.70 L98.75,174.75 L99.00,174.80 L99.25,174.85 L99.50,174.90 L99.75,174.95 L100.00,175.00 L100.25,175.05 L100.50,175.10 L100.75,175.15 L101.00,175.20 L101.25,175.25 L101.50,175.30 L101.75,175.35 L102.00,175.40 L102.25,175.45 L102.50,175.50 L102.75,175.55 L103.00,175.60 L103.25,175.65 L103.50,175.70 L103.75,175.75 L104.00,175.79 L104.25,175.84 L104.50,175.89 L104.75,175.94 L105.00,175.99 L105.25,176.04 L105.50,176.09 L105.75,176.14 L106.00,176.19 L106.25,176.23 L106.50,176.28 L106.75,176.33 L107.00,176.38 L107.25,176.43 L107.50,176.47 L107.75,176.52 L108.00,176.57 L108.25,176.62 L108.50,176.67 L108.75,176.71 L109.00,176.76 L109.25,176.81 L109.50,176.86 L109.75,176.90 L110.00,176.95 L110.25,177.00 L110.50,177.04 L110.75,177.09 L111.00,177.14 L111.25,177.18 L111.50,177.23 L111.75,177.28 L112.00,177.32 L112.25,177.37 L112.50,177.41 L112.75,177.46 L113.00,177.51 L113.25,177.55 L113.50,177.60 L113.75,177.64 L114.00,177.69 L114.25,177.73 L114.50,177.78 L114.75,177.82 L115.00,177.87 L115.25,177.91 L115.50,177.96 L115.75,178.00 L116.00,178.05 L116.25,178.09 L116.50,178.13 L116.75,178.18 L117.00,178.22 L117.25,178.27 L117.50,178.31 L117.75,178.35 L118.00,178.40 L118.25,178.44 L118.50,178.48 L118.75,178.53 L119.00,178.57 L119.25,178.61 L119.50,178.65 L119.75,178.70 L120.00,178.74 L121.50,178.99 L123.00,179.24 L124.50,179.48 L126.00,179.72 L127.50,179.96 L129.00,180.19 L130.50,180.42 L132.00,180.64 L133.50,180.86 L135.00,181.08 L136.50,181.29 L138.00,181.50 L139.50,181.70 L141.00,181.90 L142.50,182.09 L144.00,182.29 L145.50,182.48 L147.00,182.66 L148.50,182.84 L150.00,183.02 L151.50,183.20 L153.00,183.37 L154.50,183.54 L156.00,183.71 L157.50,183.87 L159.00,184.03 L160.50,184.19 L162.00,184.34 L163.50,184.50 L165.00,184.65 L166.50,184.79 L168.00,184.94 L169.50,185.08 L171.00,185.22 L172.50,185.35 L174.00,185.49 L175.50,185.62 L177.00,185.75 L178.50,185.88 L180.00,186.01 L181.50,186.13 L183.00,186.25 L184.50,186.37 L186.00,186.49 L187.50,186.60 L189.00,186.72 L190.50,186.83 L192.00,186.94 L193.50,187.05 L195.00,187.16 L196.50,187.26 L198.00,187.37 L199.50,187.47 L201.00,187.57 L202.50,187.67 L204.00,187.77 L205.50,187.86 L207.00,187.96 L208.50,188.05 L210.00,188.14 L211.50,188.23 L213.00,188.32 L214.50,188.41 L216.00,188.50 L217.50,188.59 L219.00,188.67 L220.50,188.76 L222.00,188.84 L223.50,188.92 L225.00,189.00 L226.50,189.08 L228.00,189.16 L229.50,189.24 L231.00,189.32 L232.50,189.40 L234.00,189.47 L235.50,189.55 L237.00,189.62 L238.50,189.69 L240.00,189.77 L241.50,189.84 L243.00,189.91 L244.50,189.98 L246.00,190.05 L247.50,190.12 L249.00,190.19 L250.50,190.26 L252.00,190.33 L253.50,190.39 L255.00,190.46 L256.50,190.52 L258.00,190.59 L259.50,190.65 L261.00,190.72 L262.50,190.78 L264.00,190.84 L265.50,190.91 L267.00,190.97 L268.50,191.03 L270.00,191.09 L271.50,191.15 L273.00,191.21 L274.50,191.27 L276.00,191.33 L277.50,191.39 L279.00,191.44 L280.50,191.50 L282.00,191.56 L283.50,191.62 L285.00,191.67 L286.50,191.73 L288.00,191.78 L289.50,191.84 L291.00,191.89 L292.50,191.95 L294.00,192.00 L295.50,192.05 L297.00,192.11 L298.50,192.16 L300.00,192.21 L301.50,192.26 L303.00,192.31 L304.50,192.37 L306.00,192.42 L307.50,192.47 L309.00,192.52 L310.50,192.57 L312.00,192.62 L313.50,192.66 L315.00,192.71 L316.50,192.76 L318.00,192.81 L319.50,192.86 L321.00,192.91 L322.50,192.95 L324.00,193.00 L325.50,193.05 L327.00,193.09 L328.50,193.14 L330.00,193.18 L331.50,193.23 L333.00,193.28 L334.50,193.32 L336.00,193.36 L337.50,193.41 L339.00,193.45 L340.50,193.50 L342.00,193.54 L343.50,193.58 L345.00,193.63 L346.50,193.67 L348.00,193.71 L349.50,193.75 L351.00,193.80 L352.50,193.84 L354.00,193.88 L355.50,193.92 L357.00,193.96 L358.50,194.00 L360.00,194.04 L361.50,194.08 L363.00,194.12 L364.50,194.16 L366.00,194.20 L367.50,194.24 L369.00,194.28 L370.50,194.32 L372.00,194.36 L373.50,194.40 L375.00,194.44 L376.50,194.48 L378.00,194.51 L379.50,194.55 L381.00,194.59 L382.50,194.63 L384.00,194.66 L385.50,194.70 L387.00,194.74 L388.50,194.78 L390.00,194.81 L391.50,194.85 L393.00,194.88 L394.50,194.92 L396.00,194.96 L397.50,194.99 L399.00,195.03 L400.50,195.06 L402.00,195.10 L403.50,195.13 L405.00,195.17 L406.50,195.20 L408.00,195.23 L409.50,195.27 L411.00,195.30 L412.50,195.34 L414.00,195.37 L415.50,195.40 L417.00,195.44 L418.50,195.47 L420.00,195.50 L421.50,195.54 L423.00,195.57 L424.50,195.60 L426.00,195.63 L427.50,195.66 L429.00,195.70 L430.50,195.73 L432.00,195.76 L433.50,195.79 L435.00,195.82 L436.50,195.85 L438.00,195.89 L439.50,195.92 L441.00,195.95 L442.50,195.98 L444.00,196.01 L445.50,196.04 L447.00,196.07 L448.50,196.10 L450.00,196.13 L451.50,196.16 L453.00,196.19 L454.50,196.22 L456.00,196.25 L457.50,196.28 L459.00,196.31 L460.50,196.33 L462.00,196.36 L463.50,196.39 L465.00,196.42 L466.50,196.45 L468.00,196.48 L469.50,196.51 L471.00,196.53 L472.50,196.56 L474.00,196.59 L475.50,196.62 L477.00,196.64 L478.50,196.67 L480.00,196.70 L481.50,196.73 L483.00,196.75 L484.50,196.78 L486.00,196.81 L487.50,196.83 L489.00,196.86 L490.50,196.89 L492.00,196.91 L493.50,196.94 L495.00,196.97 L496.50,196.99 L498.00,197.02 L499.50,197.04 L501.00,197.07 L502.50,197.10 L504.00,197.12 L505.50,197.15 L507.00,197.17 L508.50,197.20 L510.00,197.22 L511.50,197.25 L513.00,197.27 L514.50,197.30 L516.00,197.32 L517.50,197.35 L519.00,197.37 L520.50,197.39 L522.00,197.42 L523.50,197.44 L525.00,197.47 L526.50,197.49 L528.00,197.51 L529.50,197.54 L531.00,197.56 L531.40,197.57" stroke="#0000ff" stroke-width="1.1" stroke-dasharray="11.4 9.455"/>
<path d="M32.45,201.50 L32.55,201.70 L32.65,201.90 L32.75,202.09 L32.85,202.29 L32.95,202.49 L33.05,202.69 L33.15,202.89 L33.25,203.09 L33.35,203.28 L33.45,203.48 L33.55,203.68 L33.65,203.88 L33.75,204.08 L33.85,204.27 L33.95,204.47 L34.05,204.67 L34.15,204.87 L34.25,205.06 L34.35,205.26 L34.45,205.46 L34.55,205.65 L34.65,205.85 L34.75,206.05 L34.85,206.24 L34.95,206.44 L35.05,206.63 L35.15,206.83 L35.25,207.03 L35.35,207.22 L35.45,207.42 L35.55,207.61 L35.65,207.80 L35.75,208.00 L35.85,208.19 L35.95,208.39 L36.05,208.58 L36.15,208.77 L36.25,208.97 L36.35,209.16 L36.45,209.35 L36.55,209.54 L36.65,209.74 L36.75,209.93 L36.85,210.12 L36.95,210.31 L37.05,210.57 L37.15,210.88 L37.25,211.20 L37.35,211.51 L37.45,211.82 L37.55,212.12 L37.65,212.42 L37.75,212.72 L37.85,213.02 L37.95,213.31 L38.05,213.60 L38.15,213.89 L38.25,214.17 L38.35,214.45 L38.45,214.72 L38.55,215.00 L38.65,215.27 L38.75,215.53 L38.85,215.80 L38.95,216.06 L39.05,216.31 L39.15,216.57 L39.25,216.82 L39.35,217.07 L39.45,217.31 L39.55,217.56 L39.65,217.80 L39.75,218.03 L39.85,218.27 L39.95,218.50 L40.05,218.73 L40.15,218.96 L40.25,219.18 L40.35,219.40 L40.45,219.62 L40.55,219.84 L40.65,220.05 L40.75,220.26 L40.85,220.47 L40.95,220.68 L41.05,220.89 L41.15,221.09 L41.25,221.29 L41.35,221.49 L41.45,221.69 L41.55,221.88 L41.65,222.08 L41.75,222.27 L41.85,222.46 L41.95,222.64 L42.05,222.83 L42.15,223.01 L42.25,223.20 L42.35,223.38 L42.45,223.56 L42.55,223.73 L42.65,223.91 L42.75,224.08 L42.85,224.26 L42.95,224.43 L43.05,224.60 L43.15,224.77 L43.25,224.93 L43.35,225.10 L43.45,225.27 L43.55,225.43 L43.65,225.59 L43.75,225.75 L43.85,225.91 L43.95,226.07 L44.05,226.23 L44.15,226.39 L44.25,226.54 L44.35,226.70 L44.45,226.85 L44.55,227.01 L44.65,227.16 L44.75,227.31 L44.85,227.46 L44.95,227.61 L45.05,227.76 L45.15,227.91 L45.25,228.06 L45.35,228.20 L45.45,228.35 L45.55,228.49 L45.65,228.64 L45.75,228.78 L45.85,228.93 L45.95,229.07 L46.05,229.21 L46.15,229.36 L46.25,229.50 L46.35,229.64 L46.45,229.78 L46.55,229.92 L46.65,230.06 L46.75,230.20 L46.85,230.34 L46.95,230.48 L47.05,230.62 L47.15,230.76 L47.25,230.90 L47.35,231.03 L47.45,231.17 L47.55,231.31 L47.65,231.44 L47.75,231.58 L47.85,231.72 L47.95,231.85 L48.05,231.99 L48.15,232.12 L48.25,232.25 L48.35,232.39 L48.45,232.52 L48.55,232.65 L48.65,232.78 L48.75,232.91 L48.85,233.04 L48.95,233.17 L49.05,233.30 L49.15,233.43 L49.25,233.56 L49.35,233.69 L49.45,233.82 L49.55,233.94 L49.65,234.07 L49.75,234.19 L49.85,234.32 L49.95,234.44 L50.00,234.50 L50.25,234.81 L50.50,235.12 L50.75,235.42 L51.00,235.71 L51.25,236.01 L51.50,236.29 L51.75,236.58 L52.00,236.86 L52.25,237.13 L52.50,237.41 L52.75,237.67 L53.00,237.94 L53.25,238.20 L53.50,238.45 L53.75,238.70 L54.00,238.95 L54.25,239.19 L54.50,239.43 L54.75,239.66 L55.00,239.89 L55.25,240.11 L55.50,240.33 L55.75,240.55 L56.00,240.76 L56.25,240.96 L56.50,241.17 L56.75,241.36 L57.00,241.56 L57.25,241.74 L57.50,241.93 L57.75,242.11 L58.00,242.28 L58.25,242.45 L58.50,242.62 L58.75,242.78 L59.00,242.94 L59.25,243.09 L59.50,243.24 L59.75,243.39 L60.00,243.53 L60.25,243.66 L60.50,243.80 L60.75,243.92 L61.00,244.05 L61.25,244.17 L61.50,244.28 L61.75,244.39 L62.00,244.50 L62.25,244.61 L62.50,244.71 L62.75,244.80 L63.00,244.89 L63.25,244.98 L63.50,245.07 L63.75,245.15 L64.00,245.23 L64.25,245.30 L64.50,245.37 L64.75,245.44 L65.00,245.51 L65.25,245.57 L65.50,245.63 L65.75,245.68 L66.00,245.74 L66.25,245.79 L66.50,245.83 L66.75,245.88 L67.00,245.92 L67.25,245.96 L67.50,245.99 L67.75,246.02 L68.00,246.06 L68.25,246.08 L68.50,246.11 L68.75,246.13 L69.00,246.15 L69.25,246.17 L69.50,246.19 L69.75,246.20 L70.00,246.21 L70.25,246.22 L70.50,246.23 L70.75,246.23 L71.00,246.23 L71.25,246.24 L71.50,246.23 L71.75,246.23 L72.00,246.23 L72.25,246.22 L72.50,246.21 L72.75,246.20 L73.00,246.19 L73.25,246.18 L73.50,246.16 L73.75,246.14 L74.00,246.12 L74.25,246.10 L74.50,246.08 L74.75,246.06 L75.00,246.03 L75.25,246.01 L75.50,245.98 L75.75,245.95 L76.00,245.92 L76.25,245.89 L76.50,245.86 L76.75,245.82 L77.00,245.79 L77.25,245.75 L77.50,245.72 L77.75,245.68 L78.00,245.64 L78.25,245.60 L78.50,245.56 L78.75,245.51 L79.00,245.47 L79.25,245.42 L79.50,245.38 L79.75,245.33 L80.00,245.28 L80.25,245.24 L80.50,245.19 L80.75,245.14 L81.00,245.09 L81.25,245.03 L81.50,244.98 L81.75,244.93 L82.00,244.88 L82.25,244.82 L82.50,244.77 L82.75,244.71 L83.00,244.65 L83.25,244.60 L83.50,244.54 L83.75,244.48 L84.00,244.42 L84.25,244.36 L84.50,244.30 L84.75,244.24 L85.00,244.18 L85.25,244.12 L85.50,244.06 L85.75,244.00 L86.00,243.93 L86.25,243.87 L86.50,243.81 L86.75,243.74 L87.00,243.68 L87.25,243.61 L87.50,243.55 L87.75,243.48 L88.00,243.42 L88.25,243.35 L88.50,243.29 L88.75,243.22 L89.00,243.15 L89.25,243.09 L89.50,243.02 L89.75,242.95 L90.00,242.88 L90.25,242.81 L90.50,242.75 L90.75,242.68 L91.00,242.61 L91.25,242.54 L91.50,242.47 L91.75,242.40 L92.00,242.33 L92.25,242.26 L92.50,242.19 L92.75,242.12 L93.00,242.05 L93.25,241.98 L93.50,241.91 L93.75,241.84 L94.00,241.77 L94.25,241.70 L94.50,241.63 L94.75,241.56 L95.00,241.49 L95.25,241.42 L95.50,241.35 L95.75,241.28 L96.00,241.20 L96.25,241.13 L96.50,241.06 L96.75,240.99 L97.00,240.92 L97.25,240.85 L97.50,240.78 L97.75,240.71 L98.00,240.64 L98.25,240.57 L98.50,240.49 L98.75,240.42 L99.00,240.35 L99.25,240.28 L99.50,240.21 L99.75,240.14 L100.00,240.07 L100.25,240.00 L100.50,239.93 L100.75,239.86 L101.00,239.79 L101.25,239.72 L101.50,239.64 L101.75,239.57 L102.00,239.50 L102.25,239.43 L102.50,239.36 L102.75,239.29 L103.00,239.22 L103.25,239.15 L103.50,239.08 L103.75,239.01 L104.00,238.94 L104.25,238.87 L104.50,238.80 L104.75,238.74 L105.00,238.67 L105.25,238.60 L105.50,238.53 L105.75,238.46 L106.00,238.39 L106.25,238.32 L106.50,238.25 L106.75,238.18 L107.00,238.12 L107.25,238.05 L107.50,237.98 L107.75,237.91 L108.00,237.84 L108.25,237.78 L108.50,237.71 L108.75,237.64 L109.00,237.57 L109.25,237.51 L109.50,237.44 L109.75,237.37 L110.00,237.31 L110.25,237.24 L110.50,237.17 L110.75,237.11 L111.00,237.04 L111.25,236.97 L111.50,236.91 L111.75,236.84 L112.00,236.78 L112.25,236.71 L112.50,236.64 L112.75,236.58 L113.00,236.51 L113.25,236.45 L113.50,236.38 L113.75,236.32 L114.00,236.26 L114.25,236.19 L114.50,236.13 L114.75,236.06 L115.00,236.00 L115.25,235.94 L115.50,235.87 L115.75,235.81 L116.00,235.74 L116.25,235.68 L116.50,235.62 L116.75,235.56 L117.00,235.49 L117.25,235.43 L117.50,235.37 L117.75,235.31 L118.00,235.24 L118.25,235.18 L118.50,235.12 L118.75,235.06 L119.00,235.00 L119.25,234.94 L119.50,234.88 L119.75,234.81 L120.00,234.75 L121.50,234.39 L123.00,234.04 L124.50,233.69 L126.00,233.34 L127.50,233.01 L129.00,232.67 L130.50,232.35 L132.00,232.03 L133.50,231.71 L135.00,231.40 L136.50,231.10 L138.00,230.80 L139.50,230.50 L141.00,230.21 L142.50,229.93 L144.00,229.65 L145.50,229.38 L147.00,229.11 L148.50,228.84 L150.00,228.58 L151.50,228.33 L153.00,228.08 L154.50,227.83 L156.00,227.59 L157.50,227.35 L159.00,227.12 L160.50,226.89 L162.00,226.66 L163.50,226.44 L165.00,226.22 L166.50,226.01 L168.00,225.80 L169.50,225.59 L171.00,225.39 L172.50,225.19 L174.00,224.99 L175.50,224.79 L177.00,224.60 L178.50,224.42 L180.00,224.23 L181.50,224.05 L183.00,223.87 L184.50,223.69 L186.00,223.52 L187.50,223.35 L189.00,223.18 L190.50,223.02 L192.00,222.85 L193.50,222.69 L195.00,222.54 L196.50,222.38 L198.00,222.23 L199.50,222.08 L201.00,221.93 L202.50,221.78 L204.00,221.64 L205.50,221.49 L207.00,221.35 L208.50,221.21 L210.00,221.08 L211.50,220.94 L213.00,220.81 L214.50,220.68 L216.00,220.55 L217.50,220.42 L219.00,220.29 L220.50,220.16 L222.00,220.04 L223.50,219.92 L225.00,219.80 L226.50,219.68 L228.00,219.56 L229.50,219.44 L231.00,219.32 L232.50,219.21 L234.00,219.09 L235.50,218.98 L237.00,218.87 L238.50,218.76 L240.00,218.65 L241.50,218.54 L243.00,218.43 L244.50,218.32 L246.00,218.22 L247.50,218.11 L249.00,218.01 L250.50,217.91 L252.00,217.80 L253.50,217.70 L255.00,217.60 L256.50,217.50 L258.00,217.41 L259.50,217.31 L261.00,217.21 L262.50,217.11 L264.00,217.02 L265.50,216.92 L267.00,216.83 L268.50,216.74 L270.00,216.64 L271.50,216.55 L273.00,216.46 L274.50,216.37 L276.00,216.28 L277.50,216.19 L279.00,216.10 L280.50,216.01 L282.00,215.93 L283.50,215.84 L285.00,215.75 L286.50,215.67 L288.00,215.58 L289.50,215.50 L291.00,215.41 L292.50,215.33 L294.00,215.25 L295.50,215.17 L297.00,215.08 L298.50,215.00 L300.00,214.92 L301.50,214.84 L303.00,214.76 L304.50,214.68 L306.00,214.61 L307.50,214.53 L309.00,214.45 L310.50,214.37 L312.00,214.30 L313.50,214.22 L315.00,214.15 L316.50,214.07 L318.00,214.00 L319.50,213.93 L321.00,213.85 L322.50,213.78 L324.00,213.71 L325.50,213.64 L327.00,213.57 L328.50,213.50 L330.00,213.43 L331.50,213.36 L333.00,213.29 L334.50,213.22 L336.00,213.15 L337.50,213.09 L339.00,213.02 L340.50,212.95 L342.00,212.89 L343.50,212.82 L345.00,212.76 L346.50,212.69 L348.00,212.63 L349.50,212.57 L351.00,212.51 L352.50,212.44 L354.00,212.38 L355.50,212.32 L357.00,212.26 L358.50,212.20 L360.00,212.14 L361.50,212.08 L363.00,212.02 L364.50,211.96 L366.00,211.91 L367.50,211.85 L369.00,211.79 L370.50,211.74 L372.00,211.68 L373.50,211.62 L375.00,211.57 L376.50,211.52 L378.00,211.46 L379.50,211.41 L381.00,211.35 L382.50,211.30 L384.00,211.25 L385.50,211.20 L387.00,211.14 L388.50,211.09 L390.00,211.04 L391.50,210.99 L393.00,210.94 L394.50,210.89 L396.00,210.84 L397.50,210.79 L399.00,210.74 L400.50,210.69 L402.00,210.64 L403.50,210.60 L405.00,210.55 L406.50,210.50 L408.00,210.45 L409.50,210.41 L411.00,210.36 L412.50,210.31 L414.00,210.27 L415.50,210.22 L417.00,210.18 L418.50,210.13 L420.00,210.09 L421.50,210.04 L423.00,210.00 L424.50,209.96 L426.00,209.91 L427.50,209.87 L429.00,209.83 L430.50,209.78 L432.00,209.74 L433.50,209.70 L435.00,209.66 L436.50,209.61 L438.00,209.57 L439.50,209.53 L441.00,209.49 L442.50,209.45 L444.00,209.41 L445.50,209.37 L447.00,209.33 L448.50,209.29 L450.00,209.25 L451.50,209.21 L453.00,209.17 L454.50,209.13 L456.00,209.09 L457.50,209.05 L459.00,209.01 L460.50,208.97 L462.00,208.94 L463.50,208.90 L465.00,208.86 L466.50,208.82 L468.00,208.78 L469.50,208.75 L471.00,208.71 L472.50,208.67 L474.00,208.64 L475.50,208.60 L477.00,208.56 L478.50,208.53 L480.00,208.49 L481.50,208.46 L483.00,208.42 L484.50,208.39 L486.00,208.35 L487.50,208.32 L489.00,208.28 L490.50,208.25 L492.00,208.21 L493.50,208.18 L495.00,208.14 L496.50,208.11 L498.00,208.07 L499.50,208.04 L501.00,208.01 L502.50,207.97 L504.00,207.94 L505.50,207.91 L507.00,207.87 L508.50,207.84 L510.00,207.81 L511.50,207.78 L513.00,207.74 L514.50,207.71 L516.00,207.68 L517.50,207.65 L519.00,207.62 L520.50,207.58 L522.00,207.55 L523.50,207.52 L525.00,207.49 L526.50,207.46 L528.00,207.43 L529.50,207.40 L531.00,207.37 L531.40,207.36" stroke="#0000ff" stroke-width="1.1" stroke-dasharray="11.4 9.4"/>
<path d="M525.7,207.5 L531.9,207.4 L531.9,212.6" stroke="#0000ff" stroke-width="1.1"/>
<path d="M32.45,201.50 L32.55,202.45 L32.65,203.40 L32.75,204.36 L32.85,205.31 L32.95,206.26 L33.05,207.21 L33.15,208.14 L33.25,209.06 L33.35,209.96 L33.45,210.84 L33.55,211.71 L33.65,212.57 L33.75,213.41 L33.85,214.25 L33.95,215.08 L34.05,215.89 L34.15,216.71 L34.25,217.52 L34.35,218.32 L34.45,219.12 L34.55,219.92 L34.65,220.83 L34.75,221.75 L34.85,222.68 L34.95,223.61 L35.05,224.55 L35.15,225.50 L35.25,226.46 L35.35,227.43 L35.45,228.42 L35.55,229.42 L35.65,230.43 L35.75,231.46 L35.85,232.51 L35.95,233.58 L36.05,234.66 L36.15,235.75 L36.25,236.83 L36.35,237.91 L36.45,238.99 L36.55,240.06 L36.65,241.14 L36.75,242.21 L36.85,243.27 L36.95,244.34 L37.05,245.40 L37.15,246.46 L37.25,247.51 L37.35,248.56 L37.45,249.61 L37.55,250.66 L37.65,251.70 L37.75,252.73 L37.85,253.76 L37.95,254.79 L38.05,255.82 L38.15,256.84 L38.25,257.85 L38.35,258.86 L38.45,259.87 L38.55,260.87 L38.65,261.87 L38.75,262.86 L38.85,263.85 L38.95,264.83 L39.05,265.81 L39.15,266.78 L39.25,267.75 L39.35,268.71 L39.45,269.67 L39.55,270.63 L39.65,271.58 L39.75,272.52 L39.85,273.46 L39.95,274.39 L40.05,275.32 L40.15,276.24 L40.25,277.16 L40.35,278.07 L40.45,278.98 L40.55,279.88 L40.65,280.77 L40.75,281.66 L40.85,282.55 L40.95,283.43 L41.05,284.30 L41.15,285.17 L41.25,286.03 L41.35,286.89 L41.45,287.74 L41.55,288.59 L41.65,289.43 L41.75,290.26 L41.85,291.09 L41.95,291.92 L42.05,292.74 L42.15,293.55 L42.25,294.35 L42.35,295.16 L42.45,295.95 L42.55,296.74 L42.65,297.52 L42.75,298.30 L42.85,299.08 L42.95,299.84 L43.05,300.60 L43.15,301.36 L43.25,302.11 L43.35,302.85 L43.45,303.59 L43.55,304.32 L43.65,305.05 L43.75,305.77 L43.85,306.49 L43.95,307.19 L44.05,307.90 L44.15,308.60 L44.25,309.29 L44.35,309.98 L44.45,310.66 L44.55,311.33 L44.65,312.00 L44.75,312.67 L44.85,313.32 L44.95,313.98 L45.05,314.62 L45.15,315.26 L45.25,315.90 L45.35,316.53 L45.45,317.15 L45.55,317.77 L45.65,318.39 L45.75,318.99 L45.85,319.59 L45.95,320.19 L46.05,320.78 L46.15,321.37 L46.25,321.95 L46.35,322.53 L46.45,323.10 L46.55,323.67 L46.65,324.23 L46.75,324.79 L46.85,325.34 L46.95,325.89 L47.05,326.44 L47.15,326.98 L47.25,327.51 L47.35,328.04 L47.45,328.57 L47.55,329.09 L47.65,329.60 L47.75,330.11 L47.85,330.62 L47.95,331.12 L48.05,331.62 L48.15,332.11 L48.25,332.59 L48.35,333.07 L48.45,333.55 L48.55,334.02 L48.65,334.49 L48.75,334.95 L48.85,335.41 L48.95,335.86 L49.05,336.31 L49.15,336.75 L49.25,337.19 L49.35,337.62 L49.45,338.05 L49.55,338.48 L49.65,338.90 L49.75,339.31 L49.85,339.72 L49.95,340.13 L50.00,340.33 L50.25,341.31 L50.50,342.27 L50.75,343.20 L51.00,344.10 L51.25,344.96 L51.50,345.80 L51.75,346.62 L52.00,347.40 L52.25,348.16 L52.50,348.88 L52.75,349.59 L53.00,350.26 L53.25,350.91 L53.50,351.53 L53.75,352.13 L54.00,352.70 L54.25,353.25 L54.50,353.77 L54.75,354.27 L55.00,354.74 L55.25,355.20 L55.50,355.63 L55.75,356.04 L56.00,356.42 L56.25,356.79 L56.50,357.14 L56.75,357.47 L57.00,357.78 L57.25,358.08 L57.50,358.36 L57.75,358.62 L58.00,358.86 L58.25,359.09 L58.50,359.30 L58.75,359.49 L59.00,359.67 L59.25,359.84 L59.50,359.99 L59.75,360.12 L60.00,360.25 L60.25,360.35 L60.50,360.44 L60.75,360.52 L61.00,360.59 L61.25,360.64 L61.50,360.68 L61.75,360.71 L62.00,360.72 L62.25,360.73 L62.50,360.72 L62.75,360.70 L63.00,360.68 L63.25,360.64 L63.50,360.59 L63.75,360.54 L64.00,360.48 L64.25,360.40 L64.50,360.32 L64.75,360.23 L65.00,360.13 L65.25,360.03 L65.50,359.92 L65.75,359.80 L66.00,359.67 L66.25,359.54 L66.50,359.40 L66.75,359.25 L67.00,359.10 L67.25,358.94 L67.50,358.77 L67.75,358.60 L68.00,358.43 L68.25,358.25 L68.50,358.06 L68.75,357.87 L69.00,357.67 L69.25,357.47 L69.50,357.27 L69.75,357.06 L70.00,356.84 L70.25,356.62 L70.50,356.40 L70.75,356.18 L71.00,355.95 L71.25,355.71 L71.50,355.48 L71.75,355.24 L72.00,355.00 L72.25,354.75 L72.50,354.50 L72.75,354.25 L73.00,354.00 L73.25,353.74 L73.50,353.48 L73.75,353.22 L74.00,352.95 L74.25,352.69 L74.50,352.42 L74.75,352.15 L75.00,351.88 L75.25,351.61 L75.50,351.33 L75.75,351.05 L76.00,350.77 L76.25,350.49 L76.50,350.21 L76.75,349.93 L77.00,349.65 L77.25,349.36 L77.50,349.08 L77.75,348.79 L78.00,348.50 L78.25,348.21 L78.50,347.92 L78.75,347.63 L79.00,347.34 L79.25,347.04 L79.50,346.75 L79.75,346.46 L80.00,346.16 L80.25,345.87 L80.50,345.57 L80.75,345.27 L81.00,344.98 L81.25,344.68 L81.50,344.38 L81.75,344.08 L82.00,343.78 L82.25,343.48 L82.50,343.18 L82.75,342.88 L83.00,342.58 L83.25,342.28 L83.50,341.98 L83.75,341.68 L84.00,341.38 L84.25,341.08 L84.50,340.78 L84.75,340.48 L85.00,340.18 L85.25,339.88 L85.50,339.58 L85.75,339.28 L86.00,338.98 L86.25,338.68 L86.50,338.38 L86.75,338.08 L87.00,337.78 L87.25,337.48 L87.50,337.19 L87.75,336.89 L88.00,336.59 L88.25,336.29 L88.50,335.99 L88.75,335.69 L89.00,335.40 L89.25,335.10 L89.50,334.80 L89.75,334.51 L90.00,334.21 L90.25,333.92 L90.50,333.62 L90.75,333.33 L91.00,333.03 L91.25,332.74 L91.50,332.45 L91.75,332.16 L92.00,331.86 L92.25,331.57 L92.50,331.28 L92.75,330.99 L93.00,330.70 L93.25,330.41 L93.50,330.12 L93.75,329.84 L94.00,329.55 L94.25,329.26 L94.50,328.97 L94.75,328.69 L95.00,328.40 L95.25,328.12 L95.50,327.83 L95.75,327.55 L96.00,327.27 L96.25,326.99 L96.50,326.70 L96.75,326.42 L97.00,326.14 L97.25,325.86 L97.50,325.59 L97.75,325.31 L98.00,325.03 L98.25,324.75 L98.50,324.48 L98.75,324.20 L99.00,323.93 L99.25,323.65 L99.50,323.38 L99.75,323.10 L100.00,322.83 L100.25,322.56 L100.50,322.29 L100.75,322.02 L101.00,321.75 L101.25,321.48 L101.50,321.21 L101.75,320.95 L102.00,320.68 L102.25,320.41 L102.50,320.15 L102.75,319.88 L103.00,319.62 L103.25,319.36 L103.50,319.09 L103.75,318.83 L104.00,318.57 L104.25,318.31 L104.50,318.05 L104.75,317.79 L105.00,317.53 L105.25,317.28 L105.50,317.02 L105.75,316.76 L106.00,316.51 L106.25,316.25 L106.50,316.00 L106.75,315.75 L107.00,315.50 L107.25,315.24 L107.50,314.99 L107.75,314.74 L108.00,314.50 L108.25,314.25 L108.50,314.00 L108.75,313.75 L109.00,313.51 L109.25,313.26 L109.50,313.02 L109.75,312.78 L110.00,312.53 L110.25,312.29 L110.50,312.05 L110.75,311.81 L111.00,311.57 L111.25,311.33 L111.50,311.09 L111.75,310.86 L112.00,310.62 L112.25,310.38 L112.50,310.15 L112.75,309.91 L113.00,309.68 L113.25,309.45 L113.50,309.22 L113.75,308.98 L114.00,308.75 L114.25,308.52 L114.50,308.29 L114.75,308.07 L115.00,307.84 L115.25,307.61 L115.50,307.39 L115.75,307.16 L116.00,306.94 L116.25,306.71 L116.50,306.49 L116.75,306.27 L117.00,306.04 L117.25,305.82 L117.50,305.60 L117.75,305.38 L118.00,305.16 L118.25,304.95 L118.50,304.73 L118.75,304.51 L119.00,304.30 L119.25,304.08 L119.50,303.87 L119.75,303.65 L120.00,303.44 L121.50,302.18 L123.00,300.95 L124.50,299.76 L126.00,298.60 L127.50,297.48 L129.00,296.38 L130.50,295.31 L132.00,294.26 L133.50,293.24 L135.00,292.24 L136.50,291.27 L138.00,290.31 L139.50,289.37 L141.00,288.46 L142.50,287.56 L144.00,286.67 L145.50,285.80 L147.00,284.94 L148.50,284.10 L150.00,283.27 L151.50,282.46 L153.00,281.66 L154.50,280.89 L156.00,280.14 L157.50,279.40 L159.00,278.69 L160.50,277.98 L162.00,277.30 L163.50,276.62 L165.00,275.96 L166.50,275.31 L168.00,274.67 L169.50,274.03 L171.00,273.41 L172.50,272.79 L174.00,272.17 L175.50,271.56 L177.00,270.96 L178.50,270.37 L180.00,269.79 L181.50,269.21 L183.00,268.64 L184.50,268.08 L186.00,267.53 L187.50,266.99 L189.00,266.46 L190.50,265.94 L192.00,265.42 L193.50,264.92 L195.00,264.43 L196.50,263.94 L198.00,263.47 L199.50,263.01 L201.00,262.55 L202.50,262.11 L204.00,261.67 L205.50,261.24 L207.00,260.82 L208.50,260.40 L210.00,259.99 L211.50,259.58 L213.00,259.18 L214.50,258.79 L216.00,258.40 L217.50,258.02 L219.00,257.64 L220.50,257.26 L222.00,256.89 L223.50,256.52 L225.00,256.16 L226.50,255.80 L228.00,255.45 L229.50,255.09 L231.00,254.74 L232.50,254.39 L234.00,254.05 L235.50,253.70 L237.00,253.36 L238.50,253.02 L240.00,252.68 L241.50,252.35 L243.00,252.01 L244.50,251.68 L246.00,251.35 L247.50,251.03 L249.00,250.70 L250.50,250.38 L252.00,250.06 L253.50,249.75 L255.00,249.43 L256.50,249.12 L258.00,248.81 L259.50,248.51 L261.00,248.20 L262.50,247.90 L264.00,247.60 L265.50,247.31 L267.00,247.02 L268.50,246.73 L270.00,246.44 L271.50,246.16 L273.00,245.88 L274.50,245.60 L276.00,245.33 L277.50,245.06 L279.00,244.79 L280.50,244.53 L282.00,244.27 L283.50,244.02 L285.00,243.76 L286.50,243.52 L288.00,243.27 L289.50,243.03 L291.00,242.79 L292.50,242.55 L294.00,242.32 L295.50,242.08 L297.00,241.85 L298.50,241.62 L300.00,241.39 L301.50,241.16 L303.00,240.93 L304.50,240.71 L306.00,240.49 L307.50,240.27 L309.00,240.05 L310.50,239.83 L312.00,239.61 L313.50,239.39 L315.00,239.18 L316.50,238.97 L318.00,238.76 L319.50,238.55 L321.00,238.34 L322.50,238.13 L324.00,237.92 L325.50,237.72 L327.00,237.52 L328.50,237.32 L330.00,237.12 L331.50,236.92 L333.00,236.72 L334.50,236.52 L336.00,236.33 L337.50,236.13 L339.00,235.94 L340.50,235.75 L342.00,235.56 L343.50,235.37 L345.00,235.18 L346.50,234.99 L348.00,234.81 L349.50,234.62 L351.00,234.44 L352.50,234.26 L354.00,234.08 L355.50,233.90 L357.00,233.72 L358.50,233.54 L360.00,233.36 L361.50,233.19 L363.00,233.01 L364.50,232.84 L366.00,232.67 L367.50,232.50 L369.00,232.33 L370.50,232.16 L372.00,231.99 L373.50,231.82 L375.00,231.65 L376.50,231.49 L378.00,231.32 L379.50,231.16 L381.00,230.99 L382.50,230.83 L384.00,230.67 L385.50,230.51 L387.00,230.35 L388.50,230.19 L390.00,230.03 L391.50,229.88 L393.00,229.72 L394.50,229.56 L396.00,229.41 L397.50,229.26 L399.00,229.10 L400.50,228.95 L402.00,228.80 L403.50,228.65 L405.00,228.50 L406.50,228.35 L408.00,228.20 L409.50,228.05 L411.00,227.90 L412.50,227.75 L414.00,227.61 L415.50,227.46 L417.00,227.32 L418.50,227.17 L420.00,227.03 L421.50,226.89 L423.00,226.74 L424.50,226.60 L426.00,226.46 L427.50,226.32 L429.00,226.18 L430.50,226.04 L432.00,225.90 L433.50,225.76 L435.00,225.63 L436.50,225.49 L438.00,225.35 L439.50,225.22 L441.00,225.08 L442.50,224.95 L444.00,224.81 L445.50,224.68 L447.00,224.55 L448.50,224.41 L450.00,224.28 L451.50,224.15 L453.00,224.02 L454.50,223.89 L456.00,223.76 L457.50,223.63 L459.00,223.51 L460.50,223.38 L462.00,223.25 L463.50,223.12 L465.00,223.00 L466.50,222.87 L468.00,222.75 L469.50,222.62 L471.00,222.50 L472.50,222.37 L474.00,222.25 L475.50,222.13 L477.00,222.01 L478.50,221.89 L480.00,221.77 L481.50,221.64 L483.00,221.52 L484.50,221.41 L486.00,221.29 L487.50,221.17 L489.00,221.05 L490.50,220.93 L492.00,220.82 L493.50,220.70 L495.00,220.58 L496.50,220.47 L498.00,220.35 L499.50,220.24 L501.00,220.12 L502.50,220.01 L504.00,219.90 L505.50,219.79 L507.00,219.67 L508.50,219.56 L510.00,219.45 L511.50,219.34 L513.00,219.23 L514.50,219.12 L516.00,219.01 L517.50,218.90 L519.00,218.79 L520.50,218.68 L522.00,218.58 L523.50,218.47 L525.00,218.36 L526.50,218.26 L528.00,218.15 L529.50,218.05 L531.00,217.96 L531.40,217.94 L532.70,211.90" stroke="#ff0000" stroke-width="1.1"/>
<path d="M532.45,193.6 L532.6,195.0" stroke="#00ff00" stroke-width="1.1"/>
</g>
<g font-family="Liberation Serif, serif" font-size="15.1px" fill="#000" stroke="#000" stroke-width="0.15" mask="url(#tm)">
<text x="114.65" y="219.55" text-anchor="middle">0.2</text>
<text x="196.65" y="219.55" text-anchor="middle">0.4</text>
<text x="278.65" y="219.55" text-anchor="middle">0.6</text>
<text x="360.65" y="219.55" text-anchor="middle">0.8</text>
<text x="442.45" y="219.55" text-anchor="middle" letter-spacing="-0.3">1.0</text>
<text x="524.05" y="219.55" text-anchor="middle" letter-spacing="-0.6">1.2</text>
<text x="27.90" y="85.20" text-anchor="end">0.2</text>
<text x="27.40" y="145.70" text-anchor="end">0.1</text>
<text x="27.40" y="266.70" text-anchor="end">−0.1</text>
<text x="27.90" y="327.20" text-anchor="end">−0.2</text>
<text x="556.8" y="205.9" font-size="14.5px">w/eV</text>
</g>
<text x="145.4" y="16" font-family="Liberation Serif, serif" font-size="17.5px" word-spacing="0.35" fill="#000" stroke="#000" stroke-width="0.15" mask="url(#tm)">Yb PV asymmetries MD:NH,IH 5meV</text>
</svg>
</body></html>
